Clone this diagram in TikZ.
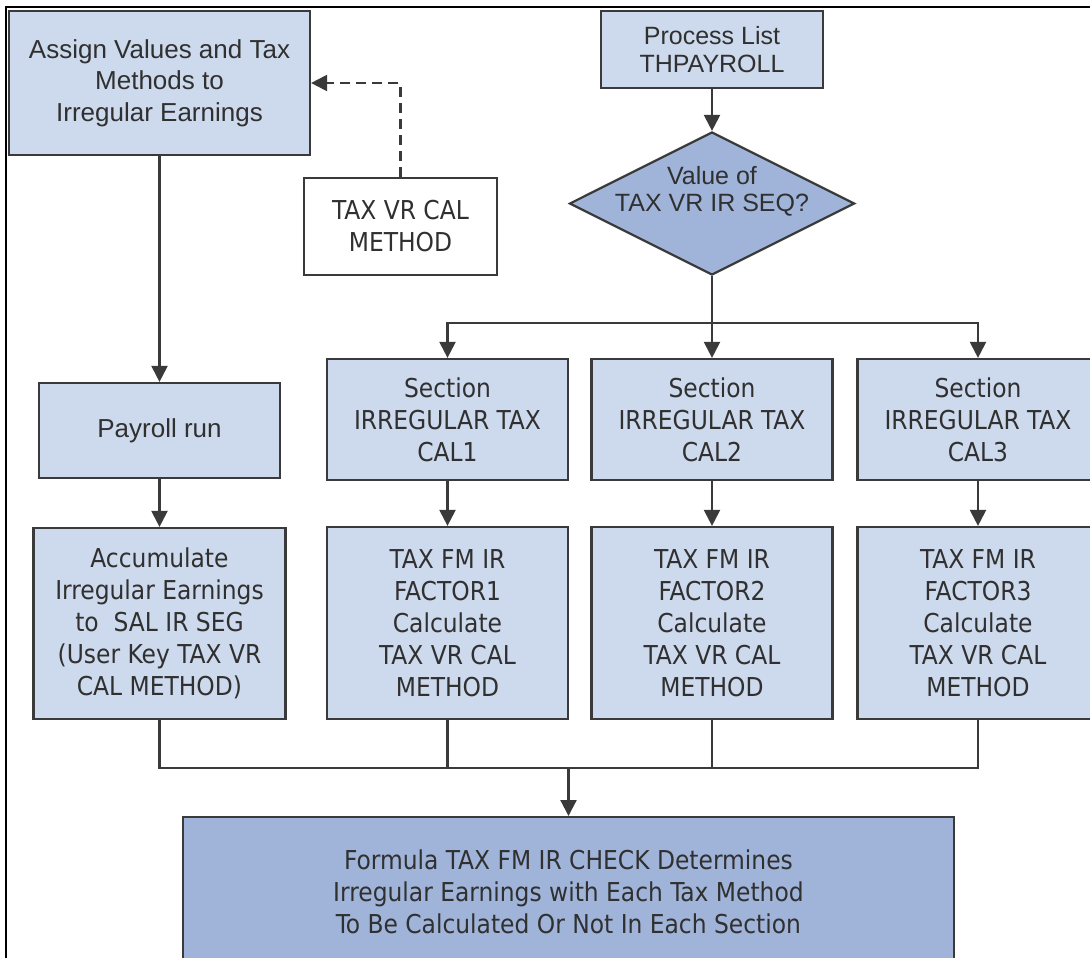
\documentclass[tikz,border=0pt]{standalone}
\usepackage{fontspec}
\setmainfont{Liberation Sans}
\newfontfamily\tahfont{DejaVu Sans Condensed}
\usetikzlibrary{shapes.geometric,arrows.meta}
\definecolor{boxlight}{HTML}{CDD9EC}
\definecolor{boxdark}{HTML}{A0B4DA}
\definecolor{edge}{HTML}{3A3A3A}
\definecolor{ink}{HTML}{303030}
\tikzset{
	stepbox/.style={draw=edge, line width=2.2pt, fill=boxlight, inner sep=0pt, align=center, text=ink},
	arialtxt/.style={font=\fontsize{26}{31.5}\selectfont},
	tahtxt/.style={font=\tahfont\fontsize{26}{32}\selectfont},
	conn/.style={draw=edge, line width=2.2pt},
	arr/.style={conn, -{Triangle[width=16pt,length=16pt]}}}

\begin{document}
\begin{tikzpicture}[x=1pt, y=-1pt]
\useasboundingbox (0,0) rectangle (1090,958);
\draw[line width=1.5pt] (6,958) -- (6,7) -- (1090,7); % frame
\node[stepbox, arialtxt, minimum width=301pt, minimum height=144pt] (assign) at (159.5,83) {Assign Values and Tax\\Methods to\\Irregular Earnings};
\node[stepbox, font=\fontsize{25}{28}\selectfont, minimum width=222pt, minimum height=77pt] (plist) at (712,49.5) {Process List\\THPAYROLL};
\node[stepbox, tahtxt, fill=white, minimum width=193pt, minimum height=97pt] (calmethod) at (400.5,226.5) {TAX VR CAL\\METHOD};
\node[diamond, draw=edge, line width=2.2pt, fill=boxdark, inner sep=0pt, minimum width=285pt, minimum height=143pt] (seq) at (712,203.5) {};
\node[align=center, text=ink, font=\fontsize{25}{27}\selectfont] (seqlabel) at (712,191) {Value of\\TAX VR IR SEQ?};
\node[stepbox, arialtxt, minimum width=241pt, minimum height=95pt] (payroll) at (159.5,430.5) {Payroll run};
\node[stepbox, tahtxt, minimum width=252pt, minimum height=191pt] (accum) at (159.5,623.5) {Accumulate\\Irregular Earnings\\to\ \ SAL IR SEG\\(User Key TAX VR\\CAL METHOD)};
\foreach \i/\x in {1/447.5, 2/712, 3/978} {
	\node[stepbox, tahtxt, minimum width=241pt, minimum height=121pt] (sec\i) at (\x,419.5) {Section\\IRREGULAR TAX\\CAL\i};
	\node[stepbox, tahtxt, minimum width=241pt, minimum height=192pt] (fac\i) at (\x,623) {TAX FM IR\\FACTOR\i\\Calculate\\TAX VR CAL\\METHOD};
	\draw[arr] (sec\i) -- (fac\i);
}
\node[stepbox, tahtxt, fill=boxdark, minimum width=771pt, minimum height=150pt, anchor=north] (check) at (568.5,816) {Formula TAX FM IR CHECK Determines\\Irregular Earnings with Each Tax Method\\To Be Calculated Or Not In Each Section};
\coordinate (split) at (712,323);
\coordinate (merge) at (568.5,768);
\draw[arr] (plist) -- (seq);
\draw[arr] (seq) -- (sec2);
\draw[arr] (split) -| (sec1);
\draw[arr] (split) -| (sec3);
\draw[arr, dash pattern=on 10pt off 6pt] (calmethod.north) |- (assign.east); % dashed feed
\draw[arr] (assign) -- (payroll);
\draw[arr] (payroll) -- (accum);
\draw[conn] (accum) |- (fac3.south |- merge) -- (fac3);
\draw[conn] (fac1) -- (fac1 |- merge);
\draw[conn] (fac2) -- (fac2 |- merge);
\draw[arr] (merge) -- (check);
\end{tikzpicture}
\end{document}
